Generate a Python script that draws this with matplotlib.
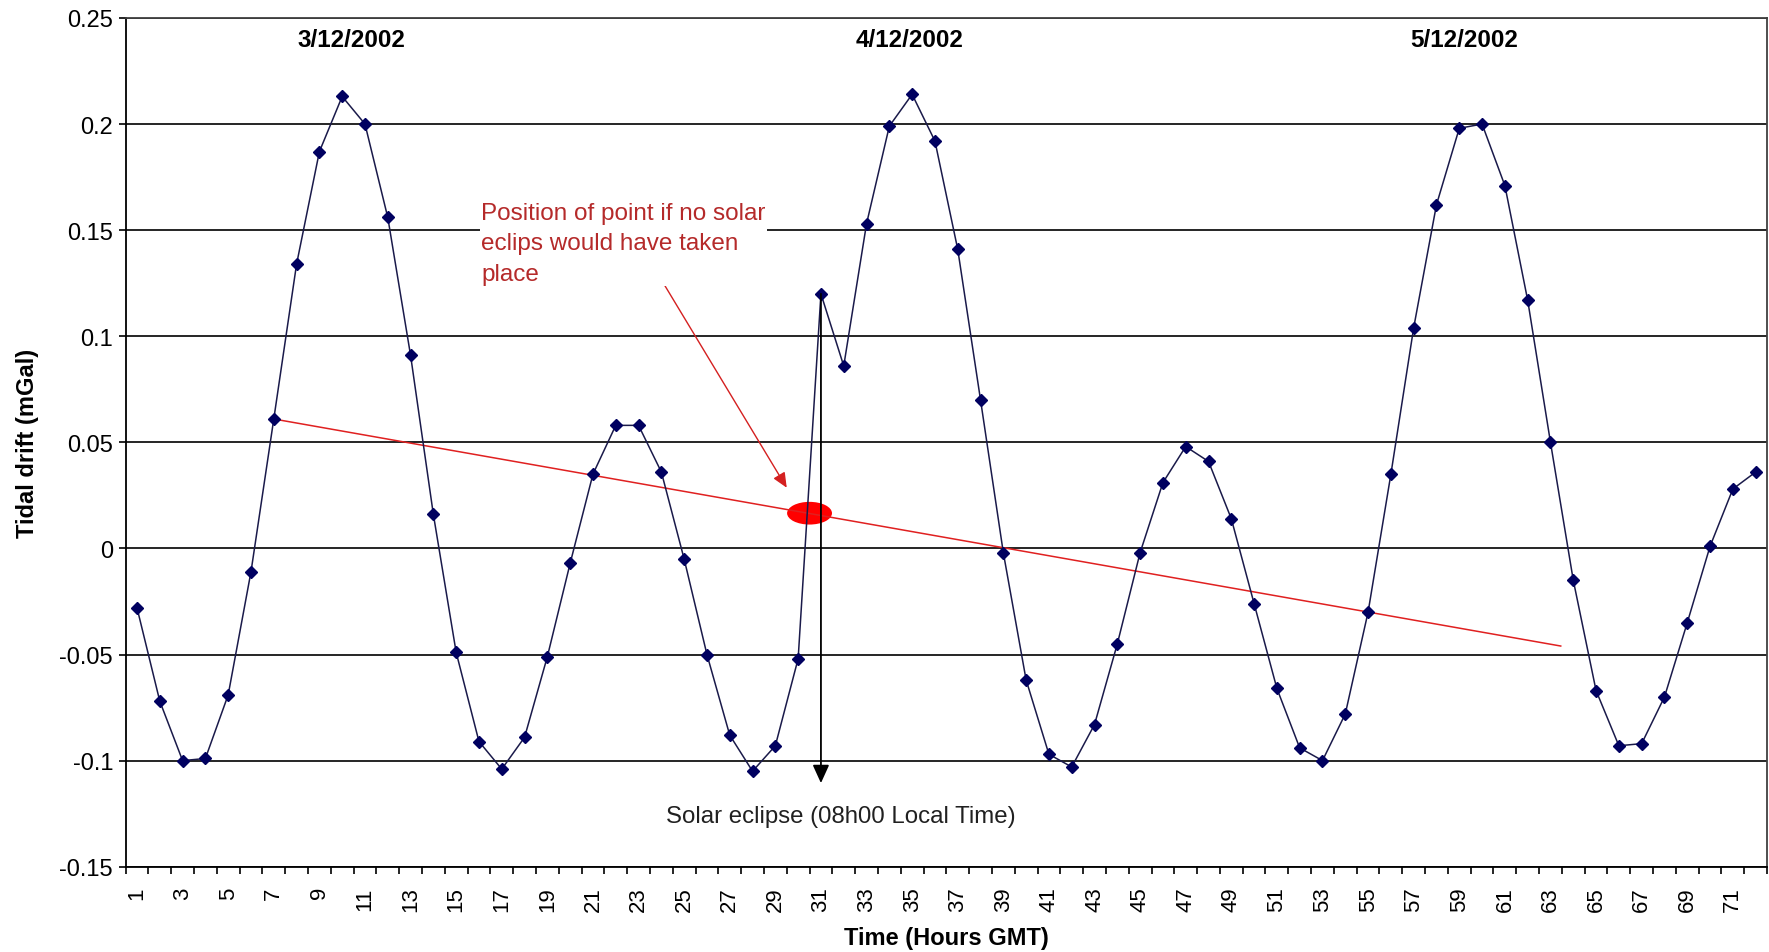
import numpy as np
import matplotlib
matplotlib.use("Agg")
import matplotlib.pyplot as plt
from matplotlib.patches import Ellipse

plt.rcParams['font.family'] = ['Liberation Sans', 'DejaVu Sans']

# Hourly tidal drift readings (mGal), hours 1..72 GMT
hours = list(range(1, 73))
drift = [
    -0.028, -0.072, -0.100, -0.099, -0.069, -0.011, 0.061, 0.134, 0.187, 0.213,
    0.200, 0.156, 0.091, 0.016, -0.049, -0.091, -0.104, -0.089, -0.051, -0.007,
    0.035, 0.058, 0.058, 0.036, -0.005, -0.050, -0.088, -0.105, -0.093, -0.052,
    0.120, 0.086, 0.153, 0.199, 0.214, 0.192, 0.141, 0.070, -0.002, -0.062,
    -0.097, -0.103, -0.083, -0.045, -0.002, 0.031, 0.048, 0.041, 0.014, -0.026,
    -0.066, -0.094, -0.100, -0.078, -0.030, 0.035, 0.104, 0.162, 0.198, 0.200,
    0.171, 0.117, 0.050, -0.015, -0.067, -0.093, -0.092, -0.070, -0.035, 0.001,
    0.028, 0.036,
]

# hand drawn trend line (start / end)
trend_x = [7, 63.45]
trend_y = [0.061, -0.046]

# where the eclipse hour would sit on the trend
expected_hour = 30.5
expected_drift = 0.0166

day_labels = ["3/12/2002", "4/12/2002", "5/12/2002"]
day_pos = [10.4, 34.9, 59.2]

yticks = [-0.15, -0.1, -0.05, 0, 0.05, 0.1, 0.15, 0.2, 0.25]
ytick_labels = ["-0.15", "-0.1", "-0.05", "0", "0.05", "0.1", "0.15", "0.2", "0.25"]

fig = plt.figure(figsize=(17.69, 9.53), dpi=100)
ax = fig.add_axes([0.0710, 0.0895, 0.9279, 0.8906])

ax.set_xlim(0.5, 72.5)
ax.set_ylim(-0.15, 0.25)

# horizontal gridlines
ax.set_yticks(yticks)
ax.set_yticklabels(ytick_labels, fontsize=17)
ax.yaxis.grid(True, color='black', linewidth=1.2, zorder=0)
ax.set_axisbelow(True)

# category axis: labels on odd hours, tick marks between categories
ax.set_xticks(hours[::2])
ax.set_xticklabels([str(h) for h in hours[::2]], rotation=90, fontsize=16)
ax.set_xticks(np.arange(0.5, 73, 1), minor=True)
ax.tick_params(axis='x', which='major', length=0, pad=14)
ax.tick_params(axis='x', which='minor', length=5, width=1.2, direction='out')
ax.tick_params(axis='y', length=5, width=1.2, direction='out', pad=4)

for side in ['left', 'bottom']:
    ax.spines[side].set_color('black')
    ax.spines[side].set_linewidth(1.3)
for side in ['top', 'right']:
    ax.spines[side].set_color('#404040')
    ax.spines[side].set_linewidth(1.3)

# expected position marker
ax.add_patch(Ellipse((expected_hour, expected_drift), 1.97, 0.0107,
                     facecolor='#ff0000', edgecolor='none', zorder=2))

# trend line
ax.plot(trend_x, trend_y, color='#e02020', linewidth=1.1, zorder=3)

# data
ax.plot(hours, drift, color='#1a1a4a', linewidth=1.1, marker='D',
        markersize=6, markerfacecolor='#000060', markeredgecolor='#000060',
        zorder=4)

# eclipse arrow
ax.annotate("", xy=(31, -0.1106), xytext=(31, drift[30]),
            arrowprops=dict(arrowstyle='-|>,head_length=1.1,head_width=0.5',
                            color='black', linewidth=1.3, shrinkA=0, shrinkB=0),
            zorder=5)
ax.text(24.2, -0.126, "Solar eclipse (08h00 Local Time)", fontsize=17.3,
        ha='left', va='center', color='#202020')

# annotation for expected point
ax.text(16.1, 0.1635, "Position of point if no solar\neclips would have taken\nplace",
        fontsize=17.5, color='#b52a2a', ha='left', va='top', linespacing=1.5,
        bbox=dict(facecolor='white', edgecolor='none', pad=1), zorder=6)
ax.annotate("", xy=(29.5, 0.0286), xytext=(24.0, 0.1266),
            arrowprops=dict(arrowstyle='-|>,head_length=0.9,head_width=0.4',
                            color='#d42020', linewidth=1.0, shrinkA=0, shrinkB=0),
            zorder=5)

for lab, pos in zip(day_labels, day_pos):
    ax.text(pos, 0.240, lab, fontsize=17.5, fontweight='bold', ha='center',
            va='center')

ax.set_xlabel("Time (Hours GMT)", fontsize=17, fontweight='bold', labelpad=11)
ax.set_ylabel("Tidal drift (mGal)", fontsize=17, fontweight='bold', labelpad=15)

fig.savefig("out.png", dpi=100)
